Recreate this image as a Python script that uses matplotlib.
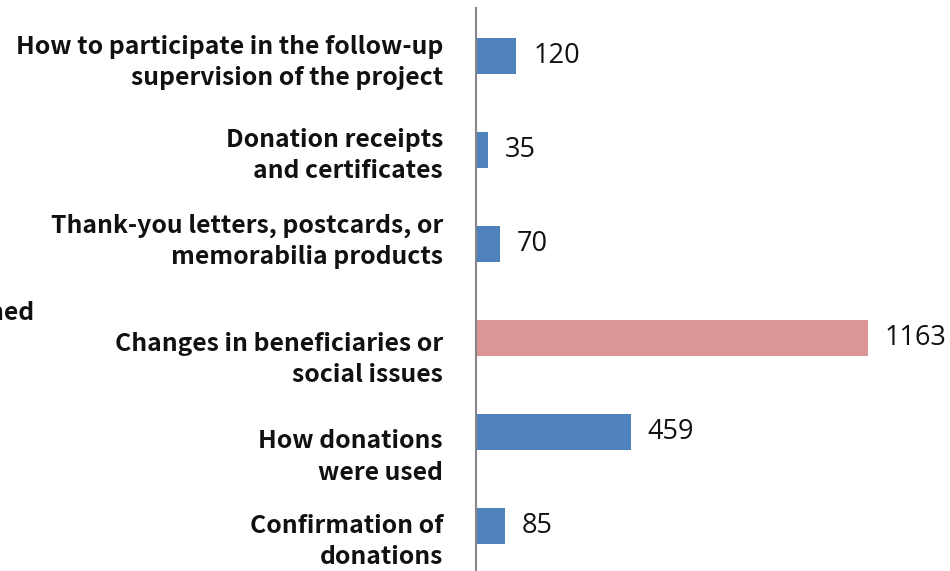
import matplotlib
matplotlib.use("Agg")
import matplotlib.pyplot as plt
import matplotlib.transforms as mtransforms

plt.rcParams['font.family'] = ['Noto Sans CJK SC', 'DejaVu Sans']

# survey answers, top to bottom
categories = [
    "How to participate in the follow-up\nsupervision of the project",
    "Donation receipts\nand certificates",
    "Thank-you letters, postcards, or\nmemorabilia products",
    "Changes in beneficiaries or\nsocial issues",
    "How donations\nwere used",
    "Confirmation of\ndonations",
]
counts = [120, 35, 70, 1163, 459, 85]
highlight = "Changes in beneficiaries or\nsocial issues"

BLUE = "#4F81BD"
PINK = "#D99694"
# small vertical nudges (in points) of each category label
label_shift = [-5, -4, 2, -15.5, -18, -11]

W, H = 950, 571
fig = plt.figure(figsize=(W / 100, H / 100), dpi=100)
ax = fig.add_axes([476 / W, 0, 1 - 476 / W, 1 - 8 / H])

ypos = list(range(len(categories)))
colors = [PINK if c == highlight else BLUE for c in categories]
ax.barh(ypos, counts, height=0.39, color=colors, zorder=2)

ax.set_xlim(0, 1406)
ax.set_ylim(5.48, -0.51)

for y, v in zip(ypos, counts):
    ax.annotate(str(v), (v, y), xytext=(12, 0), textcoords='offset points',
                va='center', ha='left', fontsize=19.5, color='#111111',
                family=['Open Sans', 'DejaVu Sans'])

trans = mtransforms.blended_transform_factory(fig.transFigure, ax.transData)
for y, lab, dy in zip(ypos, categories, label_shift):
    ax.annotate(lab, (443 / W, y), xycoords=trans, xytext=(0, dy),
                textcoords='offset points', ha='right', va='center',
                fontsize=17.8, fontweight='bold', color='#111111',
                linespacing=1.38, annotation_clip=False)

# group caption running in from the left edge
fig.text(35 / W, 1 - 313 / H, "Concerned", ha='right', va='center',
         fontsize=17.8, fontweight='bold', color='#111111')

ax.set_xticks([])
ax.set_yticks([])
for side in ['top', 'right', 'bottom']:
    ax.spines[side].set_visible(False)
ax.spines['left'].set_color('#868686')
ax.spines['left'].set_linewidth(1.5)

fig.savefig("out.png", dpi=100)
